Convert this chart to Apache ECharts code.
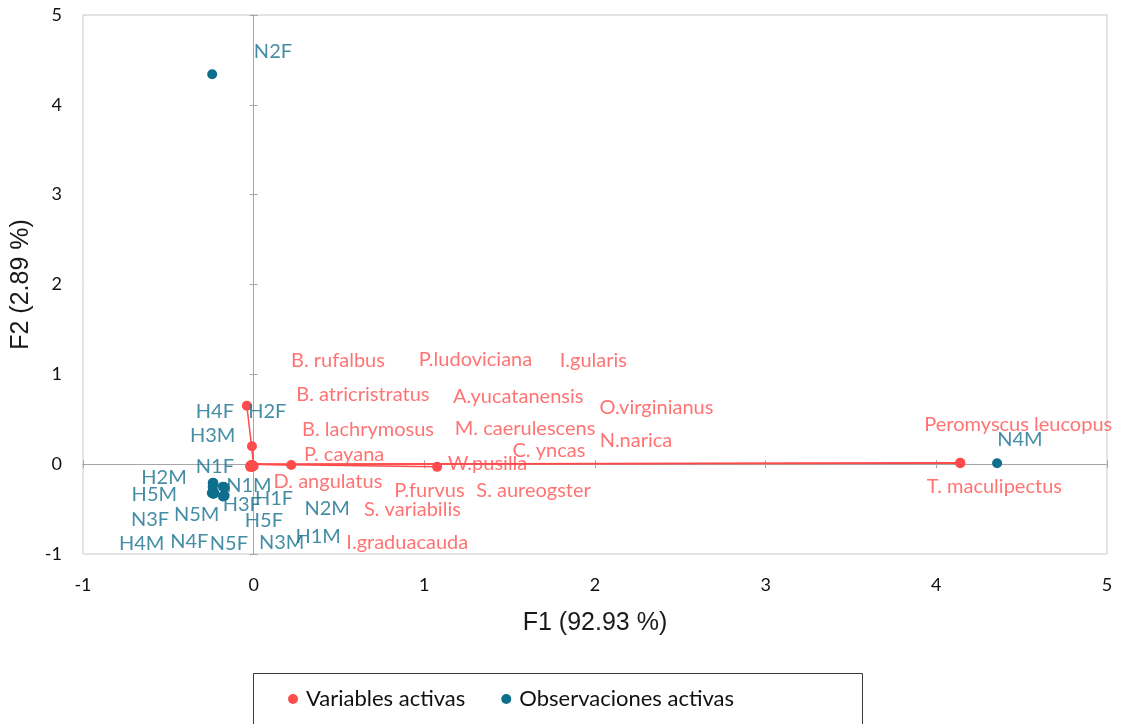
<!DOCTYPE html>
<html>
<head>
<meta charset="utf-8">
<script src="https://cdn.jsdelivr.net/npm/echarts@6/dist/echarts.min.js"></script>
<style>html,body{margin:0;padding:0;background:#fff}#c{width:1121px;height:724px}</style>
</head>
<body>
<div id="c"></div>
<script>
// ---- Data ----
var xTicks = [-1, 0, 1, 2, 3, 4, 5];
var yTicks = [-1, 0, 1, 2, 3, 4, 5];
var xTitle = 'F1 (92.93 %)';
var yTitle = 'F2 (2.89 %)';
var legendNames = ['Variables activas', 'Observaciones activas'];

// Variables activas: name, point (F1, F2)
var varNames = ['Peromyscus leucopus','T. maculipectus','W.pusilla','P. cayana','B. rufalbus','B. atricristratus',
  'B. lachrymosus','P.ludoviciana','I.gularis','A.yucatanensis','O.virginianus','M. caerulescens','N.narica',
  'C. yncas','D. angulatus','P.furvus','S. aureogster','S. variabilis','I.graduacauda'];
var varF1 = [4.14, 4.14, 1.075, 0.22, -0.04, -0.01, -0.01, -0.015, -0.01, -0.02, -0.005, -0.01, -0.015, -0.01, 0.0, -0.005, -0.02, -0.01, -0.015];
var varF2 = [0.015, 0.01, -0.03, -0.01, 0.65, 0.20, -0.01, -0.02, -0.025, -0.02, -0.015, -0.03, -0.01, -0.02, -0.02, -0.025, -0.03, -0.02, -0.025];
// label anchor positions (data units, as displaced in the chart)
var varLabF1 = [4.48, 4.34, 1.37, 0.53, 0.494, 0.64, 0.67, 1.30, 1.99, 1.55, 2.36, 1.59, 2.24, 1.73, 0.435, 1.03, 1.64, 0.93, 0.90];
var varLabF2 = [0.44, -0.25, 0.01, 0.11, 1.15, 0.77, 0.39, 1.17, 1.15, 0.75, 0.63, 0.40, 0.26, 0.15, -0.19, -0.29, -0.29, -0.51, -0.87];

// Observaciones activas
var obsNames = ['N2F','N4M','H4F','H2F','H3M','N1F','H2M','N1M','H5M','H3F','H1F','N3F','N5M','H5F','N2M','H4M','N4F','N5F','N3M','H1M'];
var obsF1 = [-0.243, 4.356, -0.237, -0.24, -0.235, -0.24, -0.237, -0.174, -0.24, -0.175, -0.17, -0.237, -0.23, -0.175, -0.18, -0.245, -0.235, -0.18, -0.17, -0.175];
var obsF2 = [4.34, 0.01, -0.206, -0.21, -0.22, -0.25, -0.30, -0.257, -0.324, -0.35, -0.26, -0.33, -0.32, -0.354, -0.25, -0.32, -0.33, -0.36, -0.35, -0.26];
var obsLabF1 = [0.113, 4.49, -0.227, 0.08, -0.24, -0.227, -0.525, -0.028, -0.582, -0.07, 0.119, -0.607, -0.334, 0.06, 0.431, -0.656, -0.377, -0.145, 0.164, 0.378];
var obsLabF2 = [4.59, 0.27, 0.585, 0.585, 0.317, -0.03, -0.146, -0.24, -0.343, -0.454, -0.38, -0.62, -0.566, -0.63, -0.49, -0.88, -0.863, -0.88, -0.874, -0.807];

// ---- Build ----
var RED = '#FF4B4B', RED_T = '#FF5050', BLUE = '#0E6E8E', BLUE_T = '#15708F';
var FONT = 'Lato';
var chart = echarts.init(document.getElementById('c'), null, {renderer: 'canvas'});

function pts(xs, ys, names) { return xs.map(function (x, i) { return {name: names[i], value: [x, ys[i]]}; }); }
var vecs = varF1.map(function (x, i) { return {coords: [[0, 0], [x, varF2[i]]]}; });

function baseAxis(extra) {
  var a = {type: 'value', min: -1, max: 5, interval: 1, splitLine: {show: false}, gridIndex: 0};
  for (var k in extra) a[k] = extra[k];
  return a;
}
var zeroLine = {show: true, onZero: true, onZeroAxisIndex: 0, lineStyle: {color: '#A6A6A6', width: 1}};

var option = {
  backgroundColor: '#fff',
  animation: false,
  grid: {left: 83, right: 14, top: 15, bottom: 170, show: true, borderColor: '#C8C8C8', borderWidth: 1, backgroundColor: 'transparent', containLabel: false, outerBoundsMode: 'none'},
  xAxis: [
    baseAxis({position: 'bottom', axisLine: {show: false, onZero: false}, axisTick: {show: false},
      axisLabel: {show: true, margin: 22, color: '#111', fontFamily: FONT, fontSize: 18,
        formatter: function (v) { return xTicks.indexOf(v) >= 0 ? String(v) : ''; }},
      name: xTitle, nameLocation: 'middle', nameGap: 57, nameTextStyle: {fontFamily: 'Liberation Sans', fontSize: 25, color: '#1a1a1a'}}),
    baseAxis({position: 'bottom', axisLine: zeroLine, axisTick: {show: true, length: 4, inside: false, lineStyle: {color: '#A6A6A6'}}, axisLabel: {show: false}}),
    baseAxis({position: 'bottom', axisLine: zeroLine, axisTick: {show: true, length: 4, inside: true, lineStyle: {color: '#A6A6A6'}}, axisLabel: {show: false}})
  ],
  yAxis: [
    baseAxis({position: 'left', axisLine: {show: false, onZero: false}, axisTick: {show: false},
      axisLabel: {show: true, margin: 21, color: '#111', fontFamily: FONT, fontSize: 18,
        formatter: function (v) { return yTicks.indexOf(v) >= 0 ? String(v) : ''; }},
      name: yTitle, nameLocation: 'middle', nameGap: 48, nameRotate: 90, nameTextStyle: {fontFamily: 'Liberation Sans', fontSize: 25, color: '#1a1a1a'}}),
    baseAxis({position: 'left', axisLine: zeroLine, axisTick: {show: true, length: 4, inside: false, lineStyle: {color: '#A6A6A6'}}, axisLabel: {show: false}}),
    baseAxis({position: 'left', axisLine: zeroLine, axisTick: {show: true, length: 4, inside: true, lineStyle: {color: '#A6A6A6'}}, axisLabel: {show: false}})
  ],
  legend: {
    data: [{name: legendNames[0], icon: 'circle'}, {name: legendNames[1], icon: 'circle'}],
    left: 288, top: 688, itemWidth: 10, itemHeight: 10, itemGap: 36, padding: 0,
    textStyle: {fontFamily: FONT, fontSize: 22, color: '#111', padding: [0, 0, 0, 3]}
  },
  graphic: [{type: 'rect', shape: {x: 253.5, y: 673.5, width: 609, height: 80}, style: {fill: 'none', stroke: '#3a3a3a', lineWidth: 1}, silent: true}],
  series: [
    {name: legendNames[1], type: 'scatter', xAxisIndex: 0, yAxisIndex: 0, symbol: 'circle', symbolSize: 10,
      itemStyle: {color: BLUE, opacity: 1}, data: pts(obsF1, obsF2, obsNames), z: 3},
    {name: 'vectors', type: 'lines', coordinateSystem: 'cartesian2d', xAxisIndex: 0, yAxisIndex: 0, polyline: false,
      lineStyle: {color: RED, width: 1.5, opacity: 1}, data: vecs, z: 4, silent: true},
    {name: legendNames[0], type: 'scatter', xAxisIndex: 0, yAxisIndex: 0, symbol: 'circle', symbolSize: 10,
      itemStyle: {color: RED, opacity: 1}, data: pts(varF1, varF2, varNames), z: 5},
    {name: 'varLabels', type: 'scatter', xAxisIndex: 0, yAxisIndex: 0, symbolSize: 2, itemStyle: {color: 'rgba(0,0,0,0)'}, silent: true, z: 6,
      label: {show: true, position: 'inside', formatter: '{b}', color: RED_T, fontFamily: FONT, fontSize: 20},
      labelLayout: {hideOverlap: false}, data: pts(varLabF1, varLabF2, varNames)},
    {name: 'obsLabels', type: 'scatter', xAxisIndex: 0, yAxisIndex: 0, symbolSize: 2, itemStyle: {color: 'rgba(0,0,0,0)'}, silent: true, z: 6,
      label: {show: true, position: 'inside', formatter: '{b}', color: BLUE_T, fontFamily: FONT, fontSize: 20},
      labelLayout: {hideOverlap: false}, data: pts(obsLabF1, obsLabF2, obsNames)}
  ]
};
chart.setOption(option);
</script>
</body>
</html>
